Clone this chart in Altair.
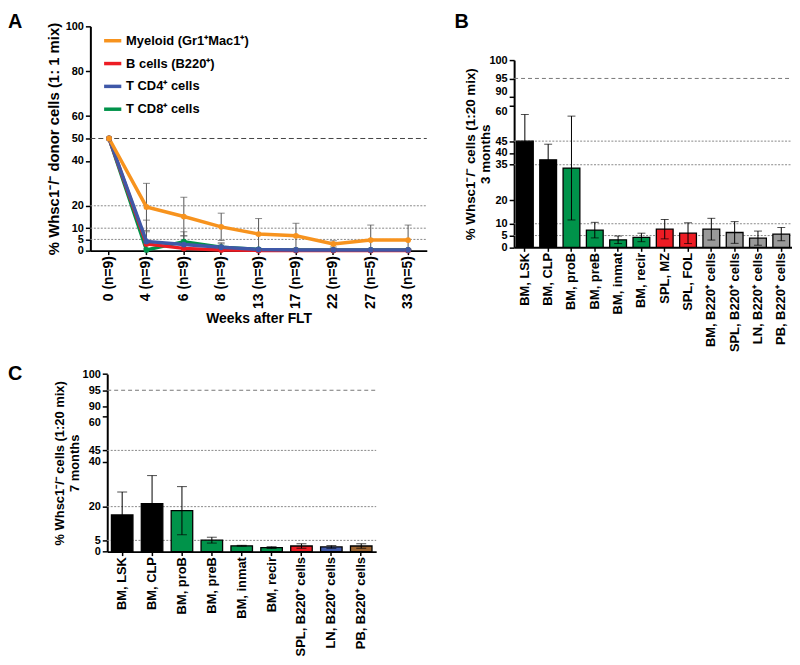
import altair as alt
import pandas as pd

FONT = "Liberation Sans"

# ---------------- Panel A data ----------------
weeks = ["0 (n=9)", "4 (n=9)", "6 (n=9)", "8 (n=9)", "13 (n=9)",
         "17 (n=9)", "22 (n=9)", "27 (n=5)", "33 (n=5)"]
series = ["Myeloid (Gr1⁺Mac1⁺)", "B cells (B220⁺)", "T CD4⁺ cells", "T CD8⁺ cells"]
series_colors = ["#F7931E", "#ED1C24", "#3F58A8", "#00924A"]
myeloid = [50, 19.5, 15.2, 10.6, 7.4, 6.6, 3.0, 4.7, 4.7]
myeloid_sd = [0, 10.5, 8.6, 6.1, 6.9, 5.6, 1.4, 6.7, 6.7]
bcells = [50, 3.0, 1.0, 0.3, 0.1, 0.1, 0.1, 0.1, 0.1]
bcells_sd = [0, 5.4, 2.0, 1.0, 0, 0, 0, 0, 0]
cd4 = [50, 4.1, 2.7, 1.5, 0.5, 0.3, 0.3, 0.3, 0.3]
cd4_sd = [0, 9.5, 3.9, 1.5, 0.5, 0.3, 0.3, 0.3, 0.3]
cd8 = [50, 0.3, 4.0, 1.5, 0.5, 0.3, 0.3, 0.3, 0.3]
cd8_sd = [0, 0.5, 4.4, 2.0, 0.5, 0.3, 0.3, 0.3, 0.3]
a_ticks = [0, 5, 10, 20, 40, 50, 60, 80, 100]
a_grid_major = [50]
a_grid_minor = [20, 10, 5]

# ---------------- Panel B data ----------------
b_cats = ["BM, LSK", "BM, CLP", "BM, proB", "BM, preB", "BM, inmat", "BM, recir",
          "SPL, MZ", "SPL, FOL", "BM, B220⁺ cells", "SPL, B220⁺ cells",
          "LN, B220⁺ cells", "PB, B220⁺ cells"]
b_vals = [45.0, 37.1, 33.6, 7.3, 3.2, 4.2, 7.7, 6.0, 7.7, 6.3, 3.9, 5.6]
b_sd = [11.3, 6.6, 22.0, 3.3, 1.6, 1.8, 4.1, 4.4, 4.6, 4.6, 3.0, 2.8]
b_colors = ["#000000", "#000000", "#00934A", "#00934A", "#00934A", "#00934A",
            "#ED1C24", "#ED1C24", "#999999", "#999999", "#999999", "#999999"]
b_ticks = [0, 5, 10, 20, 35, 40, 45, 60, 90, 95, 100]
b_grid_major = [95]
b_grid_minor = [45, 35, 10, 5]

# ---------------- Panel C data ----------------
c_cats = ["BM, LSK", "BM, CLP", "BM, proB", "BM, preB", "BM, inmat", "BM, recir",
          "SPL, B220⁺ cells", "LN, B220⁺ cells", "PB, B220⁺ cells"]
c_vals = [16.3, 21.3, 18.2, 5.1, 2.6, 1.8, 2.5, 2.1, 2.5]
c_sd = [10.2, 12.5, 10.7, 1.3, 0.2, 0.4, 1.0, 0.6, 1.0]
c_colors = ["#000000", "#000000", "#00934A", "#00934A", "#00934A", "#00934A",
            "#ED1C24", "#3F58A8", "#9C6430"]
c_ticks = [0, 5, 20, 40, 45, 60, 90, 95, 100]
c_grid_major = [95]
c_grid_minor = [45, 20, 5]

panel_letters = ["A", "B", "C"]


def axis(**kw):
    base = dict(grid=False, domainColor="black", domainWidth=2, tickColor="black",
                tickWidth=1.5, labelColor="black", labelFont=FONT, labelFontWeight="bold",
                titleFont=FONT, titleFontWeight="bold", titleColor="black",
                labelOverlap=False)
    base.update(kw)
    return alt.Axis(**base)


layers = []

# ================= Panel A =================
rows = []
for name, vals, sds in [(series[3], cd8, cd8_sd), (series[1], bcells, bcells_sd),
                        (series[2], cd4, cd4_sd), (series[0], myeloid, myeloid_sd)]:
    for i, (w, v, s) in enumerate(zip(weeks, vals, sds)):
        rows.append({"series": name, "week": w, "idx": i, "value": v,
                     "lo": max(0.0, v - s), "hi": min(100.0, v + s), "sd": s})
dfA = pd.DataFrame(rows)
errA = dfA[dfA.sd > 0]
errA_lo = errA[errA.lo > 0]

xA_scale = alt.Scale(type="band", domain=weeks, range=[83, 422], paddingInner=0, paddingOuter=0)
yA_scale = alt.Scale(type="linear", domain=[0, 100], range=[242, 16], nice=False, zero=False)
colorA = alt.Scale(domain=series, range=series_colors)

axA_x = axis(orient="bottom", offset=-407, labelAngle=-90, labelFontSize=14,
             tickSize=4, labelPadding=1, title="Weeks after FLT", titleFontSize=14,
             titlePadding=3)
axA_y = axis(orient="left", offset=-83, values=a_ticks, labelFontSize=11, tickSize=5,
             labelPadding=2, title="% Whsc1⁻/⁻ donor cells (1: 1 mix)", titleFontSize=15,
             titlePadding=4)

xA_na = alt.X("week:N", scale=xA_scale, axis=None)

layers.append(alt.Chart(pd.DataFrame({"v": a_grid_major})).mark_rule(
    color="#444", strokeDash=[5, 3], strokeWidth=1).encode(
    y=alt.Y("v:Q", scale=yA_scale, axis=None), x=alt.value(83), x2=alt.value(422)))
layers.append(alt.Chart(pd.DataFrame({"v": a_grid_minor})).mark_rule(
    color="#888", strokeDash=[2, 1.5], strokeWidth=1).encode(
    y=alt.Y("v:Q", scale=yA_scale, axis=None), x=alt.value(83), x2=alt.value(422)))
layers.append(alt.Chart(errA).mark_rule(color="#555", strokeWidth=1).encode(
    x=xA_na, y=alt.Y("lo:Q", scale=yA_scale, axis=None), y2="hi:Q"))
layers.append(alt.Chart(errA).mark_tick(color="#555", size=7, thickness=1).encode(
    x=xA_na, y=alt.Y("hi:Q", scale=yA_scale, axis=None)))
layers.append(alt.Chart(errA_lo).mark_tick(color="#555", size=7, thickness=1).encode(
    x=xA_na, y=alt.Y("lo:Q", scale=yA_scale, axis=None)))

legendA = alt.Legend(title=None, orient="none", legendX=95, legendY=20,
                     symbolType="stroke", symbolSize=300, symbolStrokeWidth=3.5,
                     labelFont=FONT, labelFontSize=13, labelFontWeight="bold",
                     labelColor="black", labelOffset=3, rowPadding=5, padding=0)

layers.append(alt.Chart(dfA).mark_line(strokeWidth=3.5).encode(
    x=alt.X("week:N", scale=xA_scale, axis=axA_x),
    y=alt.Y("value:Q", scale=yA_scale, axis=axA_y),
    color=alt.Color("series:N", scale=colorA, legend=legendA),
    order="idx:Q"))
layers.append(alt.Chart(dfA).mark_point(filled=True, size=34, opacity=1).encode(
    x=xA_na, y=alt.Y("value:Q", scale=yA_scale, axis=None),
    color=alt.Color("series:N", scale=colorA, legend=None)))


# ================= Bar panels =================
def bar_panel(cats, vals, sds, colors, ticks, g_major, g_minor, xr, yr, x_pad_outer,
              x_off, y_off, ylab_size, title_lines, title_size, title_pad, cap, base90, base60):
    df = pd.DataFrame({"cat": cats, "value": vals, "color": colors,
                       "lo": [max(0.0, v - s) for v, s in zip(vals, sds)],
                       "hi": [v + s for v, s in zip(vals, sds)]})
    xs = alt.Scale(type="band", domain=cats, range=xr, paddingInner=0.28,
                   paddingOuter=x_pad_outer)
    ys = alt.Scale(type="linear", domain=[0, 60, 90, 100], range=yr, nice=False, zero=False)
    ax_x = axis(orient="bottom", offset=x_off, labelAngle=-90, labelFontSize=13,
                tickSize=4, labelPadding=1, title=None)
    ax_y = axis(orient="left", offset=y_off, values=ticks, labelFontSize=ylab_size,
                tickSize=5, labelPadding=2, title=title_lines, titleFontSize=title_size,
                titleLineHeight=title_size + 2, titlePadding=title_pad,
                labelBaseline={"condition": [{"test": "datum.value == 90", "value": base90},
                                             {"test": "datum.value == 60", "value": base60}],
                               "value": "middle"})
    xna = alt.X("cat:N", scale=xs, axis=None)
    out = []
    out.append(alt.Chart(pd.DataFrame({"v": g_major})).mark_rule(
        color="#777", strokeDash=[4, 3], strokeWidth=1).encode(
        y=alt.Y("v:Q", scale=ys, axis=None), x=alt.value(xr[0]), x2=alt.value(xr[1])))
    out.append(alt.Chart(pd.DataFrame({"v": g_minor})).mark_rule(
        color="#888", strokeDash=[2, 1.5], strokeWidth=1).encode(
        y=alt.Y("v:Q", scale=ys, axis=None), x=alt.value(xr[0]), x2=alt.value(xr[1])))
    out.append(alt.Chart(df).mark_bar(stroke="black", strokeWidth=1.3).encode(
        x=alt.X("cat:N", scale=xs, axis=ax_x),
        y=alt.Y("value:Q", scale=ys, axis=ax_y),
        y2=alt.datum(0),
        fill=alt.Fill("color:N", scale=None)))
    out.append(alt.Chart(df).mark_rule(color="black", strokeWidth=1).encode(
        x=xna, y=alt.Y("lo:Q", scale=ys, axis=None), y2="hi:Q"))
    out.append(alt.Chart(df).mark_tick(color="black", size=cap, thickness=1).encode(
        x=xna, y=alt.Y("hi:Q", scale=ys, axis=None)))
    out.append(alt.Chart(df).mark_tick(color="black", size=cap, thickness=1).encode(
        x=xna, y=alt.Y("lo:Q", scale=ys, axis=None)))
    return out


layers += bar_panel(b_cats, b_vals, b_sd, b_colors, b_ticks, b_grid_major, b_grid_minor,
                    [510, 790], [238.7, 96, 87, 50], 0.1, -410.3, -510, 11,
                    ["% Whsc1⁻/⁻ cells (1:20 mix)", "3 months"], 13.5, -4, 8,
                    "bottom", "top")
layers += bar_panel(c_cats, c_vals, c_sd, c_colors, c_ticks, c_grid_major, c_grid_minor,
                    [100, 371], [545.3, 409.3, 399, 366.4], 0.14, -103.7, -100, 11,
                    ["% Whsc1⁻/⁻ cells (1:20 mix)", "7 months"], 13, 1, 10,
                    "middle", "top")


# ================= Panel letters =================
def letter(t, x, y):
    return alt.Chart(pd.DataFrame({"t": [t]})).mark_text(
        font=FONT, fontSize=20, fontWeight="bold", align="left", baseline="alphabetic",
        color="black").encode(text="t:N", x=alt.value(x), y=alt.value(y))


layers.append(letter(panel_letters[0], 0, 18))
layers.append(letter(panel_letters[1], 450, 18))
layers.append(letter(panel_letters[2], 0, 372))

chart = alt.layer(*layers).resolve_scale(
    x="independent", y="independent").properties(
    width=790, height=649, padding=0,
    autosize=alt.AutoSizeParams(type="none")).configure_view(strokeWidth=0)

chart.save("out.html", embed_options={"renderer": "svg", "actions": False})
